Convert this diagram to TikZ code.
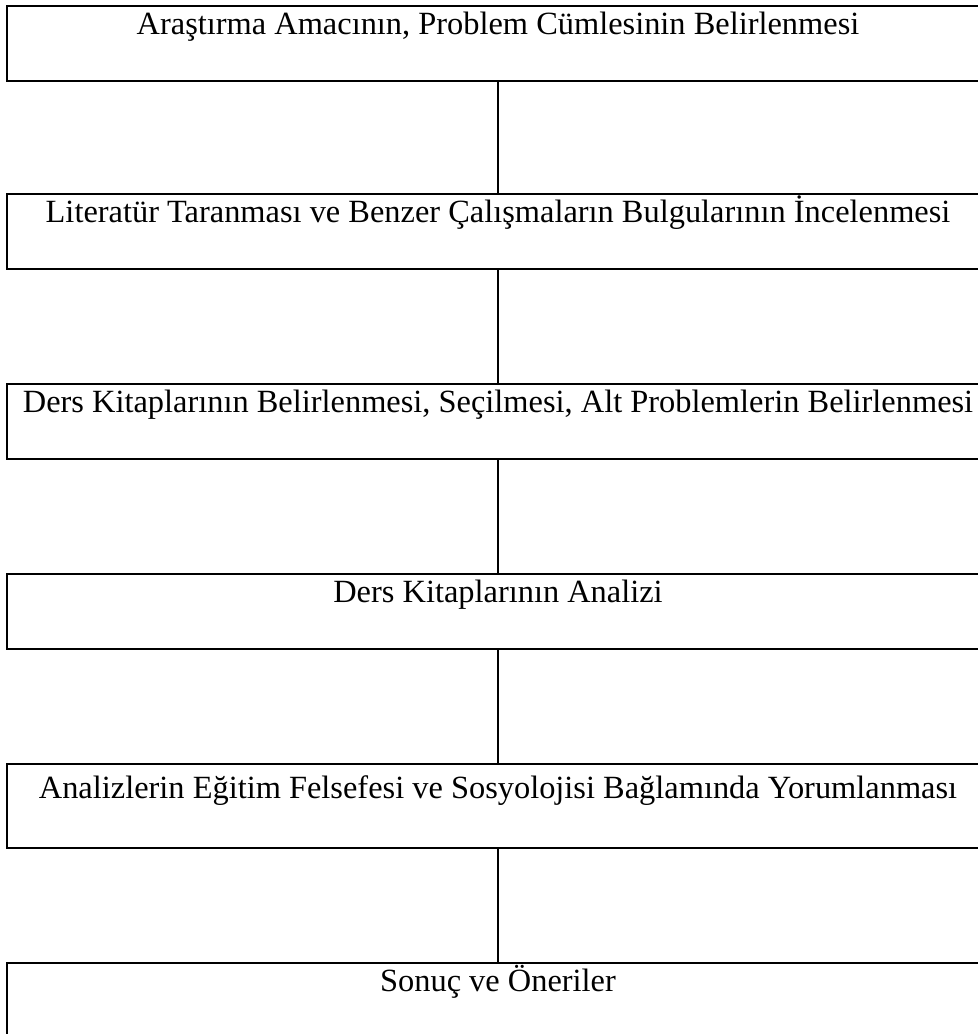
\documentclass[tikz,border=0pt]{standalone}
\usepackage{fontspec}
\setmainfont{Liberation Serif}
\usepackage{tikz}

\begin{document}
\begin{tikzpicture}[x=0.5pt,y=-0.5pt,stage/.style={shape=rectangle,draw=black,line width=1pt,anchor=north,minimum width=491pt,inner xsep=0pt,inner ysep=0pt,text height=14pt,text depth=23.5pt,font=\fontsize{16.2}{19}\selectfont},stageT/.style={stage,text height=17pt,text depth=25pt},link/.style={line width=0.7pt}]
\def\cx{498};

\useasboundingbox (0,0) rectangle (978,1034);

\node[stage] (A) at (\cx,5) {Araştırma Amacının, Problem Cümlesinin Belirlenmesi};
\node[stage] (B) at (\cx,193) {Literatür Taranması ve Benzer Çalışmaların Bulgularının İncelenmesi};
\node[stage] (C) at (\cx,383) {Ders Kitaplarının Belirlenmesi, Seçilmesi, Alt Problemlerin Belirlenmesi};
\node[stage] (D) at (\cx,573) {Ders Kitaplarının Analizi};
\node[stageT] (E) at (\cx,763) {Analizlerin Eğitim Felsefesi ve Sosyolojisi Bağlamında Yorumlanması};
\node[stage] (F) at (\cx,962) {Sonuç ve Öneriler};

\draw[link] (A.south) -- (B.north);
\draw[link] (B.south) -- (C.north);
\draw[link] (C.south) -- (D.north);
\draw[link] (D.south) -- (E.north);
\draw[link] (E.south) -- (F.north);

\end{tikzpicture}
\end{document}
